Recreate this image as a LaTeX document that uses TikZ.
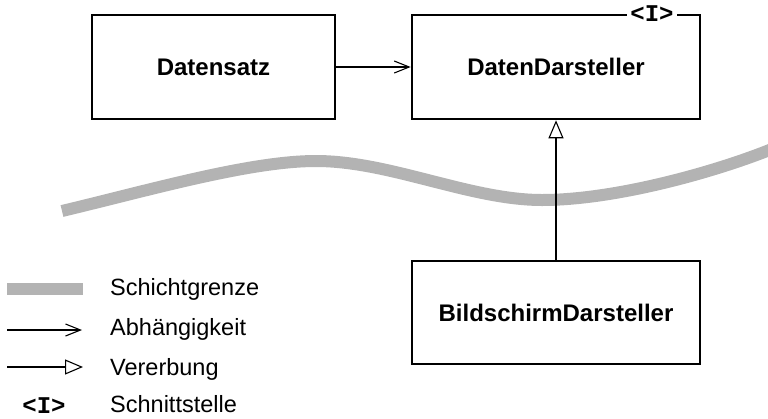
\documentclass[tikz,border=0pt]{standalone}
\usepackage{fontspec}
\setmainfont{Liberation Sans}
\newfontfamily\codefont{Liberation Mono}
\usetikzlibrary{arrows.meta}
\begin{document}
\begin{tikzpicture}[x=1pt,y=-1pt,
  classbox/.style={draw, line width=2.6pt, fill=white, font=\fontsize{24}{28}\selectfont\bfseries, inner sep=0pt},
  dependency/.style={line width=1.1pt, -{Straight Barb[length=15pt,width=12pt,line width=1.1pt]}},
  inherits/.style={line width=1.1pt, -{Triangle[open,length=18pt,width=15pt,line width=1.1pt,fill=white]}},
  layerline/.style={line width=12pt, draw={rgb,255:red,179;green,179;blue,179}, line cap=butt},
  legendtext/.style={anchor=base west, inner sep=0pt, font=\fontsize{23.5}{28}\selectfont},
  ifacetag/.style={font=\fontsize{24}{28}\selectfont\codefont\bfseries, inner sep=0pt}
]
\useasboundingbox (0,0) rectangle (768,418);

% layer boundary
\begin{scope}
\clip (0,0) rectangle (768,418);
\draw[layerline] (62,211) .. controls (150,190) and (250,161) .. (316,161)
  .. controls (390,161) and (470,200) .. (542,200)
  .. controls (615,200) and (715,172) .. (772,149);
\end{scope}

% classes
\node[classbox, minimum width=243pt, minimum height=104pt] (ds) at (213.5,67) {Datensatz};
\node[classbox, minimum width=288pt, minimum height=104pt] (dd) at (556,67) {DatenDarsteller};
\node[classbox, minimum width=288pt, minimum height=103pt] (bs) at (556,312.5) {BildschirmDarsteller};
\node[ifacetag, fill=white, inner xsep=3pt, inner ysep=1pt] (tag) at (652,14) {<I>};

% relations
\draw[dependency] (ds.east) -- (dd.west);
\draw[inherits] (bs.north) -- (dd.south);

% legend
\coordinate (l1a) at (7,288.5);  \coordinate (l1b) at (83,288.5);
\coordinate (l2a) at (7,330);    \coordinate (l2b) at (82,330);
\coordinate (l3a) at (7,367);    \coordinate (l3b) at (83,367);
\draw[layerline] (l1a) -- (l1b);
\draw[dependency] (l2a) -- (l2b);
\draw[inherits] (l3a) -- (l3b);
\node[ifacetag] (ltag) at (44,406) {<I>};
\node[legendtext] (t1) at (110,295) {Schichtgrenze};
\node[legendtext] (t2) at (110,335) {Abhängigkeit};
\node[legendtext] (t3) at (110,375) {Vererbung};
\node[legendtext] (t4) at (110,412) {Schnittstelle};
\end{tikzpicture}
\end{document}
